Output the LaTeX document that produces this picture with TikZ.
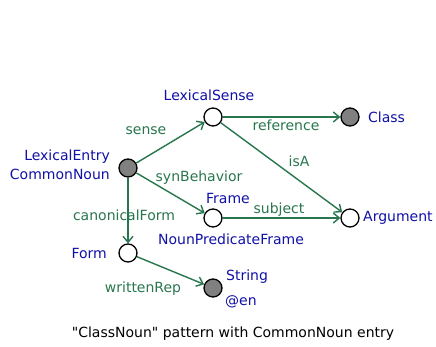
\documentclass[tikz,border=0pt]{standalone}
\usepackage{fontspec}
\setmainfont{DejaVu Sans}
\newfontfamily\capfont{DejaVu Sans}
\usetikzlibrary{arrows.meta}
\definecolor{egreen}{RGB}{40,118,78}
\definecolor{nblue}{RGB}{16,16,168}
\begin{document}
\begin{tikzpicture}[x=1pt,y=-1pt,
  font=\fontsize{14}{16}\selectfont,
  res/.style={circle,draw=black,line width=1.3pt,minimum size=18pt,inner sep=0pt},
  lit/.style={res,fill=black!50},
  blank/.style={res,fill=white},
  ntext/.style={text=nblue,inner sep=0pt},
  lbl/.style={text=egreen,inner sep=0pt},
  edge/.style={draw=egreen,line width=1.4pt,-{Straight Barb[length=6pt,width=10pt]}}]
\useasboundingbox (0,0) rectangle (436,347);
\node[lit]   (le)  at (128,168) {};
\node[blank] (ls)  at (213,117) {};
\node[lit]   (cls) at (350,117) {};
\node[blank] (fr)  at (213,218) {};
\node[blank] (arg) at (350,218) {};
\node[blank] (fm)  at (128,253) {};
\node[lit]   (str) at (213,288) {};

\node[ntext,anchor=east] (tle) at (110,157) {LexicalEntry};
\node[ntext,anchor=east] (tcn) at (110,174) {CommonNoun};
\node[ntext] (tls) at (209,95) {LexicalSense};
\node[ntext,anchor=west] (tcls) at (368,117) {Class};
\node[ntext] (tfr) at (228,198) {Frame};
\node[ntext] (tnpf) at (231,239) {NounPredicateFrame};
\node[ntext,anchor=west] (targ) at (363,218) {Argument};
\node[ntext,anchor=east] (tfm) at (107,253) {Form};
\node[ntext,anchor=west] (tstr) at (226,277) {String};
\node[ntext,anchor=west] (ten) at (225,302) {@en};

\draw[edge] (le) -- (ls);
\draw[edge] (le) -- (fr);
\draw[edge] (le) -- (fm);
\draw[edge] (ls) -- (cls);
\draw[edge] (ls) -- (arg);
\draw[edge] (fr) -- (arg);
\draw[edge] (fm) -- (str);

\node[lbl] (lsense) at (146,131) {sense};
\node[lbl] (lsyn) at (199,178) {synBehavior};
\node[lbl] (lcan) at (124,215) {canonicalForm};
\node[lbl] (lref) at (286,125) {reference};
\node[lbl] (lisa) at (299,161) {isA};
\node[lbl] (lsub) at (279,210) {subject};
\node[lbl] (lwr) at (143,289) {writtenRep};

\node[inner sep=0pt,font=\capfont\fontsize{14}{16}\selectfont] (cap) at (233,334) {"ClassNoun" pattern with CommonNoun entry};
\end{tikzpicture}
\end{document}
